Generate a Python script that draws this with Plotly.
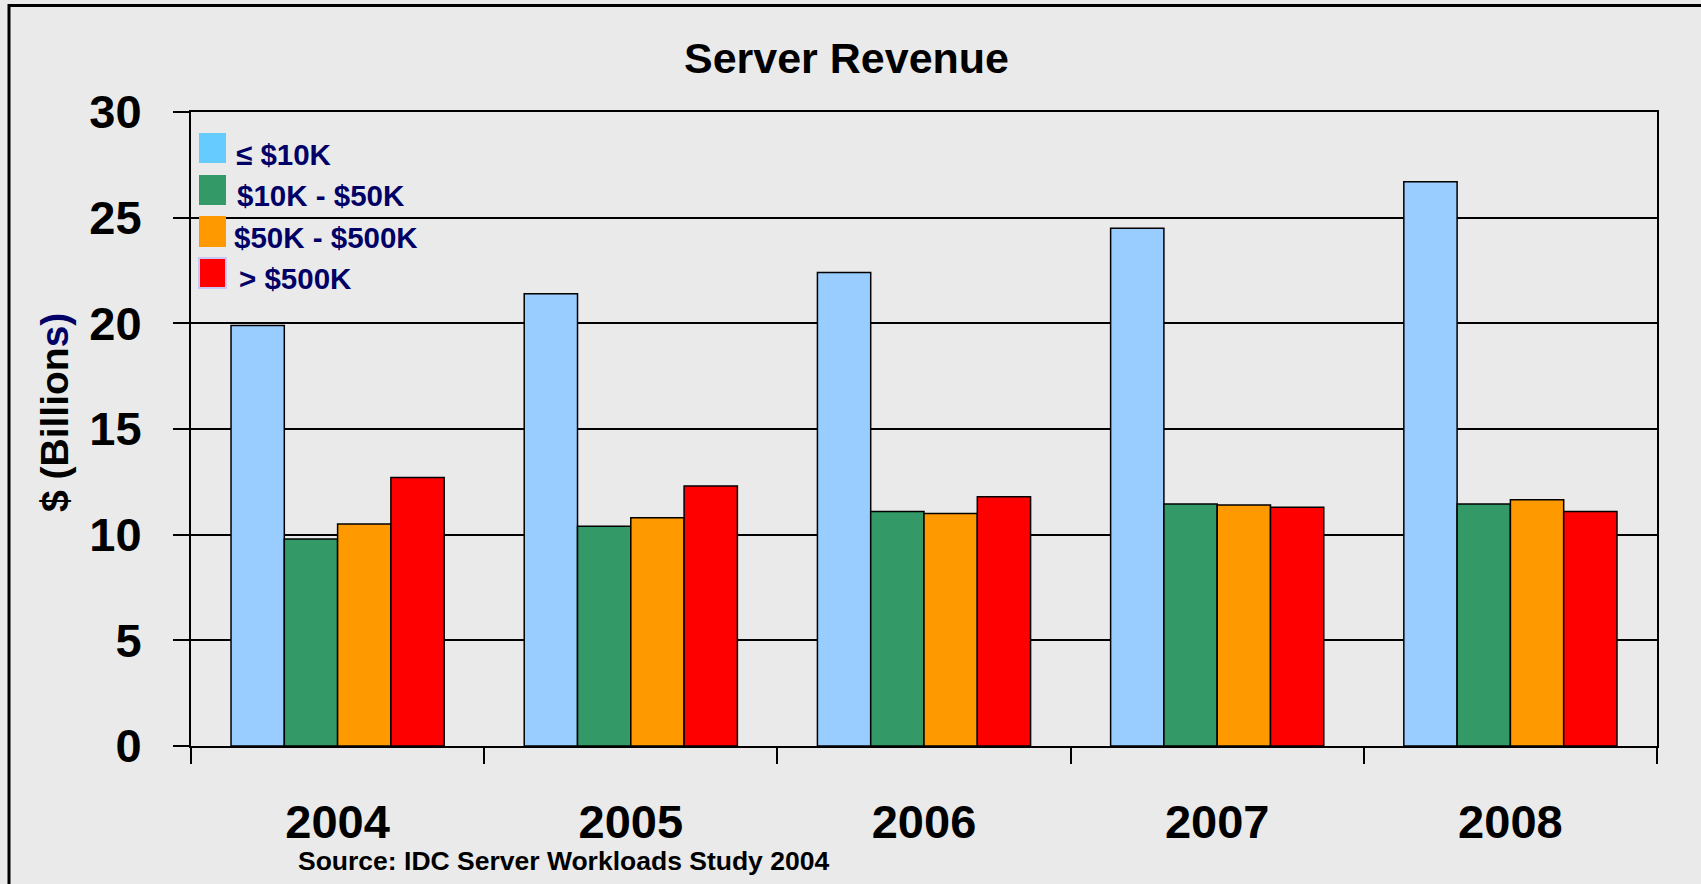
import plotly.graph_objects as go

years = ["2004", "2005", "2006", "2007", "2008"]
series_names = ["≤ $10K", "$10K - $50K", "$50K - $500K", "> $500K"]
le_10k = [19.9, 21.4, 22.4, 24.5, 26.7]
k10_50 = [9.8, 10.4, 11.1, 11.45, 11.45]
k50_500 = [10.5, 10.8, 11.0, 11.4, 11.65]
gt_500k = [12.7, 12.3, 11.8, 11.3, 11.1]
y_ticks = [0, 5, 10, 15, 20, 25, 30]

series_values = [le_10k, k10_50, k50_500, gt_500k]
bar_colors = ["#99CCFF", "#339966", "#FF9900", "#FF0000"]
legend_colors = ["#66CCFF", "#339966", "#FF9900", "#FF0000"]

W, H = 1701, 884
L, R, T, B = 191, 1657, 112, 746
FONT = "Liberation Sans, Arial, sans-serif"
NAVY = "#000066"


def px(x):
    return (x - L) / (R - L)


def py(y):
    return (B - y) / (B - T)


fig = go.Figure()
for name, vals, col in zip(series_names, series_values, bar_colors):
    fig.add_trace(go.Bar(
        x=years, y=vals, name=name, showlegend=False,
        marker=dict(color=col, line=dict(color="black", width=1.5)),
    ))

shapes = []
annotations = []

# outer frame
shapes.append(dict(type="rect", xref="paper", yref="paper",
                   x0=px(9), x1=px(1720), y0=py(900), y1=py(5.5),
                   line=dict(color="black", width=3), layer="above"))

# manual legend
sw_y = [(133, 163), (175, 205), (216, 247), (258, 288)]
tx_y = [154.5, 196, 237, 278]
tx_x = [234, 235, 232, 237]
for i, (name, col) in enumerate(zip(series_names, legend_colors)):
    y0, y1 = sw_y[i]
    border = dict(color="#C8C8F8", width=2) if i == 3 else dict(width=0)
    shapes.append(dict(type="rect", xref="paper", yref="paper",
                       x0=px(199), x1=px(226), y0=py(y1), y1=py(y0),
                       fillcolor=col, line=border, layer="above"))
    annotations.append(dict(xref="paper", yref="paper", x=px(tx_x[i]), y=py(tx_y[i]),
                            xanchor="left", yanchor="middle", showarrow=False,
                            text=name, font=dict(family=FONT, size=29.5, color=NAVY, weight="bold")))

# y-axis title
annotations.append(dict(xref="paper", yref="paper", x=px(54), y=py(413),
                        xanchor="center", yanchor="middle", showarrow=False, textangle=-90,
                        text="$ (Billion<span style='color:#000066'>s)</span>",
                        font=dict(family=FONT, size=39, color="black", weight="bold")))

# source
annotations.append(dict(xref="paper", yref="paper", x=px(296), y=py(861),
                        xanchor="left", yanchor="middle", showarrow=False,
                        text="Source: IDC Server Workloads Study 2004",
                        font=dict(family=FONT, size=26.5, color="black", weight="bold")))

fig.update_layout(
    width=W, height=H, autosize=False,
    margin=dict(l=L, r=W - R, t=T, b=H - B, pad=0),
    paper_bgcolor="#EAEAEA", plot_bgcolor="#EAEAEA",
    barmode="group", bargap=0.273, bargroupgap=0,
    title=dict(text="Server Revenue", x=846.5 / W, xref="container", xanchor="center",
               y=1 - 58 / H, yref="container", yanchor="middle",
               font=dict(family=FONT, size=43, color="black", weight="bold")),
    shapes=shapes, annotations=annotations,
    xaxis=dict(type="category", tickson="boundaries", ticks="outside", ticklen=16,
               tickwidth=2, tickcolor="black", showline=True, linecolor="black",
               linewidth=2, mirror=True, showgrid=False,
               tickfont=dict(family=FONT, size=47, color="black", weight="bold"),
               ticklabelstandoff=34),
    yaxis=dict(range=[0, 30], tickvals=y_ticks, ticks="outside", ticklen=16,
               tickwidth=2, tickcolor="black", showline=True, linecolor="black",
               linewidth=2, mirror=True, showgrid=True, gridcolor="black",
               gridwidth=1.5, zeroline=False,
               tickfont=dict(family=FONT, size=47, color="black", weight="bold"),
               ticklabelstandoff=22),
)

fig.write_html("out.html", config={"displayModeBar": False},
               post_script="document.body.style.margin='0';document.body.style.overflow='hidden';")
